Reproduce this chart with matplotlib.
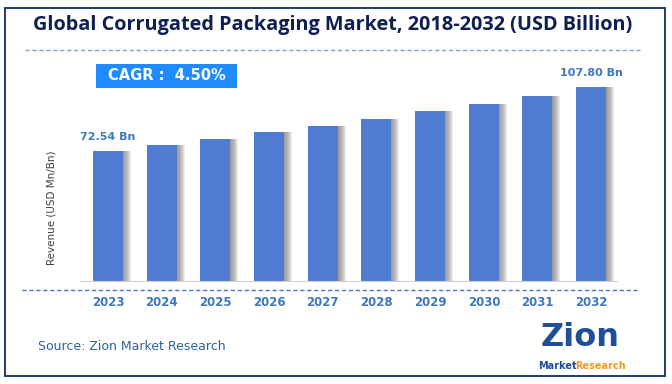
import numpy as np
import matplotlib.pyplot as plt
from matplotlib.patches import Rectangle

# data
years = ['2023', '2024', '2025', '2026', '2027', '2028', '2029', '2030', '2031', '2032']
revenue = [72.54, 75.80, 79.21, 82.78, 86.50, 90.40, 94.46, 98.71, 103.16, 107.80]
first_label = '72.54 Bn'
last_label = '107.80 Bn'
cagr_text = 'CAGR :  4.50%'

W, H = 672, 384
fig = plt.figure(figsize=(W / 100, H / 100), dpi=100)
fig.patch.set_facecolor('white')

def fx(px):
    return px / W

def fy(py):
    return 1 - py / H

# outer border
fig.patches.append(Rectangle((fx(5), fy(376)), fx(660), (376 - 8) / H, transform=fig.transFigure,
                             fill=False, edgecolor='#1f3d66', linewidth=1.4))

# title
fig.text(fx(333), fy(25), 'Global Corrugated Packaging Market, 2018-2032 (USD Billion)',
         ha='center', va='center', fontsize=14.3, fontweight='bold', color='#0e1f55',
         family='Open Sans')
fig.add_artist(plt.Line2D([fx(25), fx(640)], [fy(50), fy(50)], transform=fig.transFigure,
                          color='#7f9fd0', linewidth=1, linestyle=(0, (3, 2))))

# axes: baseline at y=282px, x from 80 to 618px
ax = fig.add_axes([fx(80), fy(282), fx(618 - 80), (282 - 60) / H])
x = np.arange(len(years))
px = 1 / 53.7
for k in range(1, 9):
    ax.bar(x + k * px, revenue, width=0.56, color='#707070', alpha=0.13, zorder=1)
ax.bar(x, revenue, width=0.56, color='#4f7bd2', zorder=3)
ax.set_xlim(-0.52, 9.5)
ax.set_ylim(0, 122.9)
ax.axis('off')
ax.axhline(0, color='#d0d0d0', linewidth=1.5, zorder=4)

ax.text(x[0], revenue[0] + 5, first_label, ha='center', va='bottom', fontsize=8,
        fontweight='bold', color='#3d78c0')
ax.text(x[-1], revenue[-1] + 5, last_label, ha='center', va='bottom', fontsize=8,
        fontweight='bold', color='#3d78c0')

# dashed line under axis + year labels
fig.add_artist(plt.Line2D([fx(22), fx(637)], [fy(290), fy(290)], transform=fig.transFigure,
                          color='#4a74c0', linewidth=1, linestyle=(0, (3, 2))))
for i, yr in enumerate(years):
    xp = 108 + 53.7 * i
    fig.text(fx(xp), fy(302), yr, ha='center', va='center', fontsize=8.5,
             fontweight='bold', color='#3d78c0')

# y label
fig.text(fx(52), fy(208), 'Revenue (USD Mn/Bn)', rotation=90, ha='center', va='center',
         fontsize=7.5, color='#404040')

# CAGR box
fig.patches.append(Rectangle((fx(96), fy(88)), fx(141), 24 / H, transform=fig.transFigure,
                             facecolor='#1e8cff', edgecolor='none'))
fig.text(fx(108), fy(76), cagr_text, ha='left', va='center', fontsize=10.5,
         fontweight='bold', color='white')

# source
fig.text(fx(38), fy(346), 'Source: Zion Market Research', ha='left', va='center',
         fontsize=9, color='#2f5f9e')

# logo (text approximation)
fig.text(fx(580), fy(337), 'Zion', ha='center', va='center', fontsize=23,
         fontweight='bold', color='#1f4e9a')
fig.text(fx(557), fy(366), 'Market', ha='center', va='center', fontsize=7,
         fontweight='bold', color='#1f4e9a')
fig.text(fx(600), fy(366), 'Research', ha='center', va='center', fontsize=7,
         fontweight='bold', color='#f29a1f')

fig.savefig('out.png', dpi=100)
